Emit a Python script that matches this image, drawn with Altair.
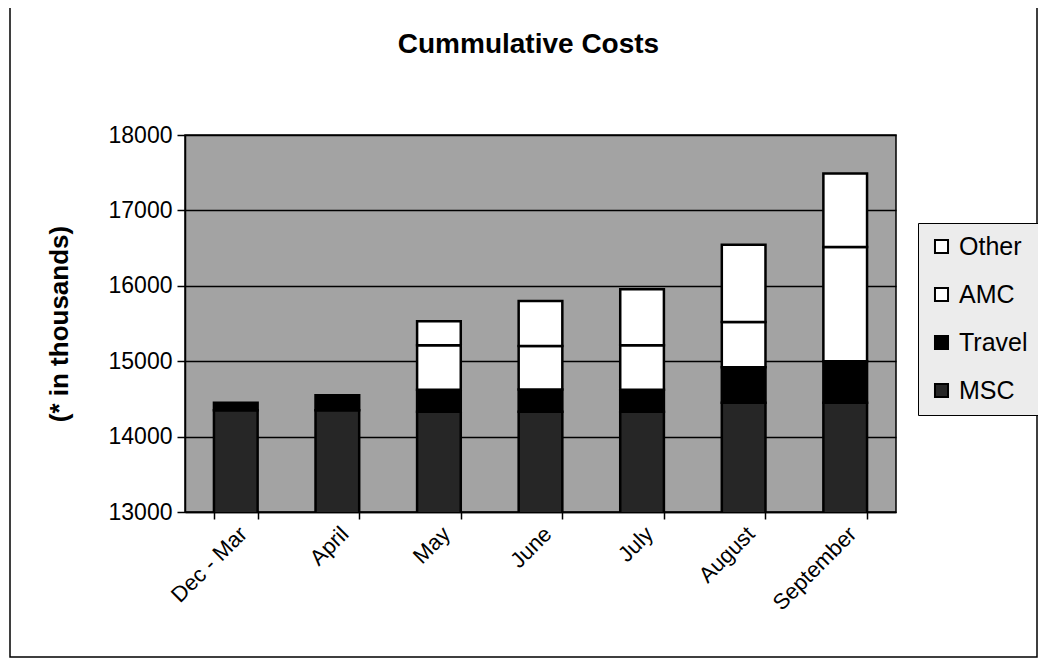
import altair as alt
import pandas as pd

months = ["Dec - Mar", "April", "May", "June", "July", "August", "September"]
series = ["MSC", "Travel", "AMC", "Other"]
msc = [14350, 14350, 14330, 14330, 14330, 14450, 14450]
travel = [100, 200, 290, 295, 290, 470, 550]
amc = [0, 0, 590, 575, 590, 600, 1515]
other = [0, 0, 320, 600, 745, 1025, 975]
y_ticks = [13000, 14000, 15000, 16000, 17000, 18000]

rows = []
for i, m in enumerate(months):
    for k, (name, vals) in enumerate(zip(series, [msc, travel, amc, other])):
        rows.append({"month": m, "series": name, "value": vals[i], "order": k})
df = pd.DataFrame(rows)

FONT = "Liberation Sans"

bars = alt.Chart(df).transform_filter(
    alt.datum.value > 0
).mark_bar(clip=True, stroke="black", strokeWidth=2.5).encode(
    x=alt.X("month:N", sort=months,
            scale=alt.Scale(paddingInner=0.57, paddingOuter=0.285),
            axis=alt.Axis(title=None, labelAngle=-45, labelFontSize=22, labelFont=FONT,
                          labelColor="black", tickBand="extent", tickSize=7, tickColor="black",
                          tickWidth=1.5, domainColor="black", domainWidth=1.5, labelPadding=4)),
    y=alt.Y("value:Q", stack="zero",
            scale=alt.Scale(domain=[13000, 18000], zero=False, nice=False),
            axis=alt.Axis(title="(* in thousands)", values=y_ticks, format="d",
                          labelFontSize=23, labelFont=FONT, labelColor="black",
                          titleFontSize=26, titleFont=FONT, titleFontWeight="bold",
                          titleColor="black", titlePadding=36,
                          tickSize=8, tickColor="black", tickWidth=1.5,
                          domainColor="black", domainWidth=1.5, labelPadding=5,
                          grid=True, gridColor="black", gridWidth=1.5, gridOpacity=1)),
    color=alt.Color("series:N",
                    scale=alt.Scale(domain=["Other", "AMC", "Travel", "MSC"],
                                    range=["white", "white", "black", "#262626"]),
                    legend=alt.Legend(title=None, orient="none", legendX=733, legendY=88,
                                      labelFontSize=25, labelFont=FONT, labelColor="black",
                                      symbolType="square", symbolSize=170,
                                      symbolStrokeColor="black", symbolStrokeWidth=2,
                                      symbolOpacity=1,
                                      fillColor="#ececec", strokeColor="black",
                                      padding=11, rowPadding=22, labelOffset=5)),
    order=alt.Order("order:Q", sort="ascending"),
)

frame = alt.Chart(pd.DataFrame({"a": [0]})).mark_rect(
    fill=None, stroke="black", strokeWidth=1.5, clip=False
).encode(
    x=alt.value(-175), x2=alt.value(852), y=alt.value(-128), y2=alt.value(522)
)

chart = alt.layer(bars, frame).properties(
    width=711, height=377,
    background="white",
    title=alt.Title("Cummulative Costs", fontSize=28, fontWeight="bold", font=FONT,
                    color="black", offset=-53, anchor="middle", dx=-12),
    autosize=alt.AutoSizeParams(type="none"),
    padding={"left": 177, "top": 127, "right": 142, "bottom": 149},
).configure_view(
    fill="#a3a3a3", stroke="black", strokeWidth=1.5
)

chart.save("out.html", embed_options={"renderer": "svg", "actions": False})
